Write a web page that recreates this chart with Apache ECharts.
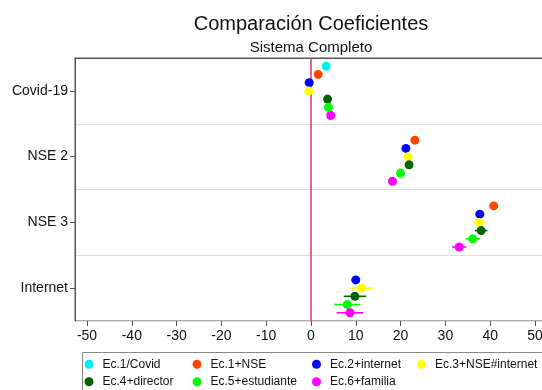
<!DOCTYPE html>
<html>
<head>
<meta charset="utf-8">
<script src="https://cdn.jsdelivr.net/npm/echarts@6/dist/echarts.min.js"></script>
<style>
html, body { margin: 0; padding: 0; background: #fff; }
#chart { width: 542px; height: 390px; }
</style>
</head>
<body>
<div id="chart"></div>
<script>
// Regressor groups on the vertical axis (top to bottom)
const groups = ['Covid-19', 'NSE 2', 'NSE 3', 'Internet'];

// Model names (legend order)
const modelNames = ['Ec.1/Covid', 'Ec.1+NSE', 'Ec.2+internet', 'Ec.3+NSE#internet',
                    'Ec.4+director', 'Ec.5+estudiante', 'Ec.6+familia'];

// Point estimates per model, one value per group (null = not in model)
const ec1Covid     = [3.4, null, null, null];
const ec1Nse       = [1.6, 23.2, 40.8, null];
const ec2Internet  = [-0.4, 21.2, 37.7, 10.0];
const ec3NseInt    = [-0.5, 21.7, 37.5, 11.3];
const ec4Director  = [3.7, 21.9, 38.0, 9.8];
const ec5Estud     = [3.9, 20.0, 36.1, 8.1];
const ec6Familia   = [4.4, 18.2, 33.1, 8.7];

// Half-width of the confidence interval per model and group
const ec1CovidCi    = [0.6, null, null, null];
const ec1NseCi      = [0.6, 0.7, 0.7, null];
const ec2InternetCi = [0.6, 0.8, 0.9, 0.9];
const ec3NseIntCi   = [0.6, 0.8, 1.3, 2.5];
const ec4DirectorCi = [0.6, 0.8, 1.4, 2.5];
const ec5EstudCi    = [0.6, 0.8, 1.6, 2.9];
const ec6FamiliaCi  = [0.6, 0.8, 1.6, 3.0];

// X axis tick values
const xTicks = [-50, -40, -30, -20, -10, 0, 10, 20, 30, 40, 50];

const estimates = [ec1Covid, ec1Nse, ec2Internet, ec3NseInt, ec4Director, ec5Estud, ec6Familia];
const halfWidths = [ec1CovidCi, ec1NseCi, ec2InternetCi, ec3NseIntCi, ec4DirectorCi, ec5EstudCi, ec6FamiliaCi];
const colors = ['#00f0f0', '#ff4500', '#0000ff', '#ffff00', '#006400', '#00ff00', '#ff00ff'];

// vertical offset of each model inside a group band
const step = 0.125;
const yPos = (g, s) => g + 0.5 + (s - 3) * step;

const series = [];

// confidence interval bars, drawn beneath the markers
estimates.forEach((vals, s) => {
  const data = [];
  vals.forEach((v, g) => {
    if (v == null) return;
    const h = halfWidths[s][g];
    data.push([v - h, v + h, yPos(g, s)]);
  });
  series.push({
    type: 'custom',
    name: modelNames[s] + ' IC',
    coordinateSystem: 'cartesian2d',
    xAxisIndex: 0, yAxisIndex: 0,
    silent: true,
    z: 2,
    encode: { x: [0, 1], y: 2 },
    data: data,
    renderItem: (params, api) => {
      const a = api.coord([api.value(0), api.value(2)]);
      const b = api.coord([api.value(1), api.value(2)]);
      return {
        type: 'line',
        shape: { x1: a[0], y1: a[1], x2: b[0], y2: b[1] },
        style: { stroke: colors[s], lineWidth: 1.6 }
      };
    }
  });
});

// point estimates
estimates.forEach((vals, s) => {
  const data = [];
  vals.forEach((v, g) => { if (v != null) data.push([v, yPos(g, s)]); });
  const ser = {
    type: 'scatter',
    name: modelNames[s],
    xAxisIndex: 0, yAxisIndex: 0,
    symbol: 'circle',
    symbolSize: 9,
    z: 3,
    itemStyle: { color: colors[s], opacity: 1 },
    emphasis: { disabled: true },
    data: data
  };
  if (s === 0) {
    ser.markLine = {
      silent: true,
      symbol: 'none',
      label: { show: false },
      lineStyle: { color: '#cc3a5c', width: 1.5, type: 'solid' },
      emphasis: { disabled: true },
      z: 1,
      data: [{ xAxis: 0 }]
    };
  }
  series.push(ser);
});

const legendCols = [
  { left: 84.5, items: [modelNames[0], modelNames[4]] },
  { left: 192.5, items: [modelNames[1], modelNames[5]] },
  { left: 312, items: [modelNames[2], modelNames[6]] },
  { left: 417, items: [modelNames[3]] }
];

const option = {
  backgroundColor: '#fff',
  animation: false,
  textStyle: { fontFamily: 'Liberation Sans, Arial, sans-serif' },
  grid: [
    { left: 75, right: -5, top: 58, bottom: 69, outerBoundsMode: 'none', containLabel: false,
      show: true, borderColor: '#555', borderWidth: 1, backgroundColor: 'transparent' },
    { left: 87, right: 7, top: 58, bottom: 69, outerBoundsMode: 'none', containLabel: false }
  ],
  xAxis: [
    {
      type: 'value', gridIndex: 0, position: 'bottom', min: -52.7, max: 52.7,
      axisLine: { show: true, lineStyle: { color: '#555', width: 1 } },
      axisTick: { show: false }, axisLabel: { show: false }, splitLine: { show: false }
    },
    {
      type: 'value', gridIndex: 1, position: 'bottom', min: xTicks[0], max: xTicks[xTicks.length - 1], interval: 10,
      axisLine: { show: false },
      axisTick: { show: true, length: 5, lineStyle: { color: '#555' } },
      axisLabel: { fontSize: 14, color: '#111', margin: 8 },
      splitLine: { show: false }
    }
  ],
  yAxis: [
    {
      type: 'value', gridIndex: 0, position: 'left', min: 0, max: groups.length, interval: 1, inverse: true,
      axisLine: { show: false }, axisTick: { show: false }, axisLabel: { show: false },
      splitLine: { show: true, lineStyle: { color: '#dcdcdc', width: 1 } }
    },
    {
      type: 'category', gridIndex: 0, position: 'left', offset: 0, data: groups, inverse: true, boundaryGap: true,
      axisLine: { show: true, lineStyle: { color: '#555', width: 1 } },
      axisTick: { show: true, alignWithLabel: true, length: 5, lineStyle: { color: '#555' } },
      axisLabel: { fontSize: 14, color: '#111', margin: 7 },
      splitLine: { show: false }
    },
    { type: 'value', gridIndex: 1, min: 0, max: 1, show: false }
  ],
  legend: legendCols.map(c => ({
    orient: 'vertical',
    left: c.left,
    top: 358,
    data: c.items,
    icon: 'circle',
    itemWidth: 17,
    itemHeight: 9,
    itemGap: 5,
    selectedMode: false,
    padding: 0,
    textStyle: { fontSize: 12, color: '#111', lineHeight: 12.5 }
  })),
  graphic: [
    { type: 'text', x: 311, y: 24, style: { text: 'Comparación Coeficientes', fontSize: 20, fill: '#111', align: 'center', verticalAlign: 'middle', fontFamily: 'Liberation Sans, Arial, sans-serif' } },
    { type: 'text', x: 311, y: 47.5, style: { text: 'Sistema Completo', fontSize: 15, fill: '#111', align: 'center', verticalAlign: 'middle', fontFamily: 'Liberation Sans, Arial, sans-serif' } },
    { type: 'rect', shape: { x: 82.5, y: 352.5, width: 470, height: 60 }, style: { fill: 'none', stroke: '#888', lineWidth: 1 }, silent: true }
  ],
  series: series
};

const chart = echarts.init(document.getElementById('chart'), null, { renderer: 'canvas' });
chart.setOption(option);
</script>
</body>
</html>
